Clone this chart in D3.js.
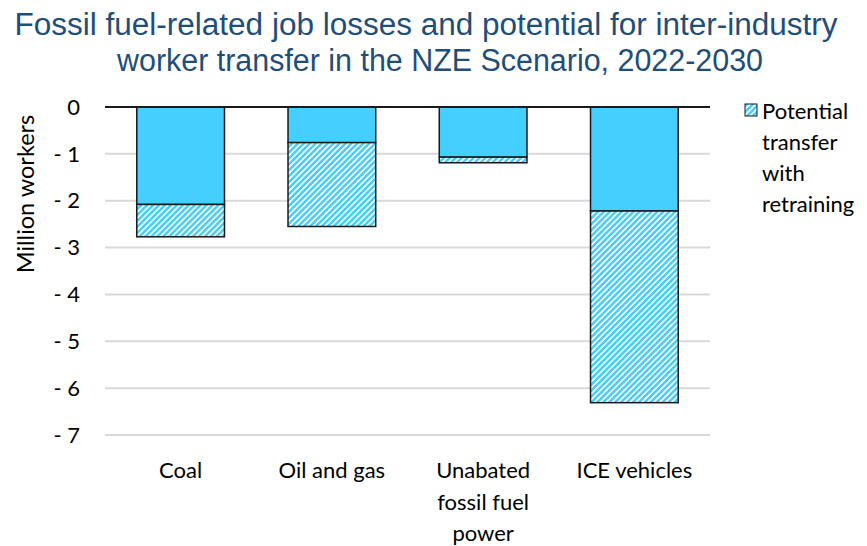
<!DOCTYPE html>
<html><head><meta charset="utf-8">
<script src="https://cdn.jsdelivr.net/npm/d3@7"></script>
<style>body{margin:0;background:#fff}</style>
</head><body>
<svg id="c" width="867" height="546"></svg>
<script>
const categories = [["Coal"], ["Oil and gas"], ["Unabated", "fossil fuel", "power"], ["ICE vehicles"]];
const jobLosses = [-2.08, -0.76, -1.07, -2.22];
const potentialTransfer = [-0.69, -1.79, -0.12, -4.09];
const yTicks = [0, -1, -2, -3, -4, -5, -6, -7];
const titleLines = ["Fossil fuel-related job losses and potential for inter-industry", "worker transfer in the NZE Scenario, 2022-2030"];
const legendLines = ["Potential", "transfer", "with", "retraining"];

const svg = d3.select("#c");
const blue = "#45CFFF";
const font = "Lato, 'Open Sans', sans-serif";
const fs = 22;

const defs = svg.append("defs");
const pat = defs.append("pattern").attr("id","hatch").attr("patternUnits","userSpaceOnUse")
  .attr("width",4.2).attr("height",4.2).attr("patternTransform","rotate(45)");
pat.append("rect").attr("width",4.2).attr("height",4.2).attr("fill","#fff");
pat.append("rect").attr("width",2.5).attr("height",4.2).attr("fill",blue);

const x = d3.scaleBand().domain(d3.range(categories.length)).range([105,710]).paddingInner(0.42).paddingOuter(0.21);
const y = d3.scaleLinear().domain([-7,0]).range([435,107]);

// title
const titleX = [426, 440];
svg.append("g").selectAll("text").data(titleLines).join("text")
  .attr("x",(d,i)=>titleX[i]).attr("y",(d,i)=>35+i*35.5).attr("text-anchor","middle")
  .attr("font-family","'Liberation Sans', Arial, sans-serif").attr("font-size",31).attr("fill","#1f4e79")
  .attr("textLength",(d,i)=>i===0?823:646).attr("lengthAdjust","spacingAndGlyphs").text(d=>d);

// grid
svg.append("g").selectAll("line").data(yTicks.filter(t=>t!==0)).join("line")
  .attr("x1",105).attr("x2",710).attr("y1",d=>y(d)).attr("y2",d=>y(d))
  .attr("stroke","#d9d9d9").attr("stroke-width",2);

// y tick labels
svg.append("g").selectAll("text").data(yTicks).join("text")
  .attr("x",80).attr("y",d=>y(d)).attr("dy","0.35em").attr("text-anchor","end")
  .attr("font-family",font).attr("font-size",fs).attr("fill","#000")
  .text(d=>d===0?"0":"- "+Math.abs(d));

// y title
svg.append("text").attr("transform","translate(34,194) rotate(-90)").attr("text-anchor","middle")
  .attr("font-family",font).attr("font-size",23.5).attr("fill","#000").text("Million workers");

// bars
const g = svg.append("g");
categories.forEach((c,i)=>{
  const bx = x(i), bw = x.bandwidth();
  const s0 = jobLosses[i], s1 = jobLosses[i]+potentialTransfer[i];
  g.append("rect").attr("x",bx).attr("y",y(0)).attr("width",bw).attr("height",y(s0)-y(0))
    .attr("fill",blue).attr("stroke","#1a1a1a").attr("stroke-width",1.5);
  g.append("rect").attr("x",bx).attr("y",y(s0)).attr("width",bw).attr("height",y(s1)-y(s0))
    .attr("fill","url(#hatch)").attr("stroke","#1a1a1a").attr("stroke-width",1.5);
});

// zero axis line
svg.append("line").attr("x1",105).attr("x2",710).attr("y1",y(0)).attr("y2",y(0))
  .attr("stroke","#1a1a1a").attr("stroke-width",2);

// x labels
categories.forEach((lines,i)=>{
  svg.append("g").selectAll("text").data(lines).join("text")
    .attr("x",x(i)+x.bandwidth()/2).attr("y",(d,j)=>478+j*31.5).attr("text-anchor","middle")
    .attr("font-family",font).attr("font-size",fs).attr("fill","#000").text(d=>d);
});

// legend
svg.append("rect").attr("x",745).attr("y",104).attr("width",12).attr("height",12)
  .attr("fill","url(#hatch)").attr("stroke","#1a1a1a").attr("stroke-width",1);
svg.append("g").selectAll("text").data(legendLines).join("text")
  .attr("x",762).attr("y",(d,i)=>119+i*31).attr("font-family",font).attr("font-size",fs).attr("fill","#000").text(d=>d);
</script>
</body></html>
